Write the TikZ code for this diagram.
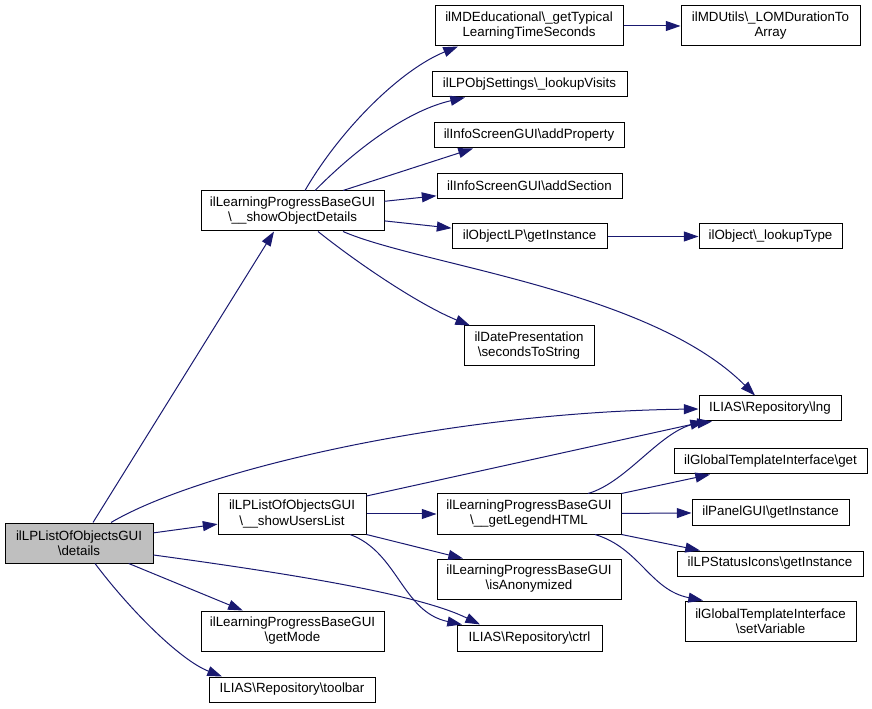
\documentclass[tikz,border=0pt]{standalone}
\usepackage{fontspec}
\setmainfont{Liberation Sans}
\usetikzlibrary{arrows.meta}
\definecolor{edgeblue}{RGB}{25,25,112}
\definecolor{mainfill}{RGB}{191,191,191}
\begin{document}
\begin{tikzpicture}[x=0.75pt,y=-0.75pt,
  box/.style={draw=black,line width=0.75pt,inner sep=0pt,align=center,
    font=\fontsize{10}{11.3}\selectfont,fill=white},
  wh/.style 2 args={minimum width=#1*0.75pt,minimum height=#2*0.75pt},
  call/.style={draw=edgeblue,line width=0.75pt,-{Triangle[length=11pt,width=7.5pt]}}]
\useasboundingbox (0,0) rectangle (872,709);
% nodes
\node[box,wh={148}{40},fill=mainfill] (det) at (79,543) {ilLPListOfObjectsGUI\\\textbackslash details};
\node[box,wh={183}{40}] (sod) at (292.5,211) {ilLearningProgressBaseGUI\\\textbackslash\_\_showObjectDetails};
\node[box,wh={188}{40}] (mde) at (529,26) {ilMDEducational\textbackslash\_getTypical\\LearningTimeSeconds};
\node[box,wh={179}{40}] (mdu) at (770.5,26) {ilMDUtils\textbackslash\_LOMDurationTo\\Array};
\node[box,wh={195}{25}] (lps) at (529.5,84.5) {ilLPObjSettings\textbackslash\_lookupVisits};
\node[box,wh={190}{25}] (adp) at (529,135.5) {ilInfoScreenGUI\textbackslash addProperty};
\node[box,wh={185}{25}] (ads) at (529.5,186) {ilInfoScreenGUI\textbackslash addSection};
\node[box,wh={155}{25}] (olp) at (529.5,236.5) {ilObjectLP\textbackslash getInstance};
\node[box,wh={143}{25}] (lut) at (770.5,236.5) {ilObject\textbackslash\_lookupType};
\node[box,wh={130}{40}] (dts) at (529,346) {ilDatePresentation\\\textbackslash secondsToString};
\node[box,wh={142}{25}] (lng) at (770,408.5) {ILIAS\textbackslash Repository\textbackslash lng};
\node[box,wh={148}{40}] (sul) at (292,514) {ilLPListOfObjectsGUI\\\textbackslash\_\_showUsersList};
\node[box,wh={184}{40}] (lgh) at (529,514) {ilLearningProgressBaseGUI\\\textbackslash\_\_getLegendHTML};
\node[box,wh={193}{25}] (gtg) at (770.5,461.5) {ilGlobalTemplateInterface\textbackslash get};
\node[box,wh={157}{25}] (pnl) at (770.5,512.5) {ilPanelGUI\textbackslash getInstance};
\node[box,wh={186}{25}] (lsi) at (770,563.5) {ilLPStatusIcons\textbackslash getInstance};
\node[box,wh={171}{40}] (gsv) at (770.5,621) {ilGlobalTemplateInterface\\\textbackslash setVariable};
\node[box,wh={184}{40}] (ano) at (529,579) {ilLearningProgressBaseGUI\\\textbackslash isAnonymized};
\node[box,wh={183}{40}] (gmd) at (292.5,631) {ilLearningProgressBaseGUI\\\textbackslash getMode};
\node[box,wh={145}{26}] (ctl) at (529.5,638) {ILIAS\textbackslash Repository\textbackslash ctrl};
\node[box,wh={166}{25}] (tlb) at (292,689.5) {ILIAS\textbackslash Repository\textbackslash toolbar};
% edges from details
\draw[call] (det.north -| 93,0) -- (sod.south -| 274,0);
\draw[call] (det.north -| 111,0) .. controls (200,470) and (450,412) .. (lng.west |- 0,409);
\draw[call] (det) -- (sul);
\draw[call] (det.east |- 0,555) .. controls (300,575) and (420,595) .. (ctl.north -| 480,0);
\draw[call] (det) -- (gmd);
\draw[call] (det.south -| 95,0) .. controls (130,610) and (180,660) .. (tlb.north -| 222,0);
% edges from showObjectDetails
\draw[call] (sod.north -| 305,0) .. controls (340,130) and (400,70) .. (mde.south -| 458,0);
\draw[call] (sod.north -| 315,0) .. controls (360,145) and (410,110) .. (lps.south -| 465,0);
\draw[call] (sod.north -| 343,0) -- (adp.south -| 473,0);
\draw[call] (sod) -- (ads);
\draw[call] (sod) -- (olp);
\draw[call] (sod.south -| 318,0) .. controls (360,265) and (420,305) .. (dts.north -| 470,0);
\draw[call] (sod.south -| 343,0) .. controls (420,265) and (650,290) .. (lng.north -| 755,0);
\draw[call] (mde) -- (mdu);
\draw[call] (olp) -- (lut);
% edges from showUsersList
\draw[call] (sul.east |- 0,496) -- (lng.south -| 705,0);
\draw[call] (sul) -- (lgh);
\draw[call] (sul.south east) -- (ano.north -| 463,0);
\draw[call] (sul.south -| 350,0) .. controls (398,552) and (402,612) .. (ctl.north -| 462,0);
% edges from getLegendHTML
\draw[call] (lgh.north -| 588,0) .. controls (628,482) and (662,428) .. (lng.south -| 712,0);
\draw[call] (lgh.north east) -- (gtg.south -| 710,0);
\draw[call] (lgh) -- (pnl);
\draw[call] (lgh.south east) -- (lsi.north -| 700,0);
\draw[call] (lgh.south -| 595,0) .. controls (640,548) and (650,590) .. (gsv.north -| 703,0);
\end{tikzpicture}
\end{document}
